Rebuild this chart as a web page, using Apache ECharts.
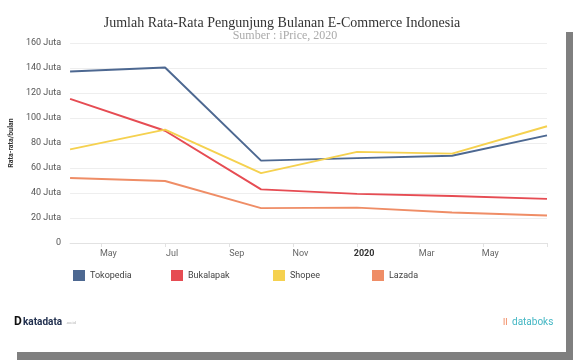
<!DOCTYPE html>
<html>
<head>
<meta charset="utf-8">
<script src="https://cdn.jsdelivr.net/npm/echarts@6/dist/echarts.min.js"></script>
<style>
html,body{margin:0;padding:0;background:#fff;}
#c{width:573px;height:360px;}
</style>
</head>
<body>
<div id="c"></div>
<script>
const dates = ['2019-04-01', '2019-07-01', '2019-10-01', '2020-01-01', '2020-04-01', '2020-07-01'];
const tokopedia = [137.2, 140.4, 65.9, 67.9, 69.8, 86.1];
const bukalapak = [115.3, 89.8, 42.9, 39.3, 37.6, 35.3];
const shopee = [74.9, 90.7, 55.9, 72.9, 71.5, 93.4];
const lazada = [52.0, 49.6, 27.9, 28.3, 24.4, 22.0];
const seriesNames = ['Tokopedia', 'Bukalapak', 'Shopee', 'Lazada'];
const monthNames = ['Jan', 'Feb', 'Mar', 'Apr', 'May', 'Jun', 'Jul', 'Aug', 'Sep', 'Oct', 'Nov', 'Dec'];
const colors = ['#4d6891', '#e64c53', '#f5d14f', '#ef8d66'];
const legendLefts = [73, 171, 273, 372];

const chart = echarts.init(document.getElementById('c'), null, {renderer: 'canvas'});
const allData = [tokopedia, bukalapak, shopee, lazada];
const series = seriesNames.map((n, i) => ({
  name: n,
  type: 'line',
  data: dates.map((d, j) => [d, allData[i][j]]),
  symbol: 'none',
  lineStyle: {width: 2, color: colors[i]},
  itemStyle: {color: colors[i]}
}));
const xMin = new Date(dates[0]).getTime();
const xMax = new Date(dates[dates.length - 1]).getTime();

chart.setOption({
  animation: false,
  title: [{
    text: 'Jumlah Rata-Rata Pengunjung Bulanan E-Commerce Indonesia',
    left: 277, top: 11, textAlign: 'center',
    textStyle: {fontFamily: 'Liberation Serif', fontSize: 14, fontWeight: 'normal', color: '#333'}
  }, {
    text: 'Sumber : iPrice, 2020',
    left: 280, top: 25, textAlign: 'center',
    textStyle: {fontFamily: 'Liberation Serif', fontSize: 12, fontWeight: 'normal', color: '#aaa'}
  }],
  grid: {left: 66, right: 26, top: 43, bottom: 117},
  legend: seriesNames.map((n, i) => ({
    left: legendLefts[i], top: 270, padding: 0,
    itemWidth: 12, itemHeight: 11,
    icon: 'rect',
    data: [n],
    textStyle: {fontFamily: 'Roboto', fontSize: 9, color: '#444'},
    selectedMode: false
  })),
  xAxis: {
    type: 'time',
    min: xMin,
    max: xMax,
    splitNumber: 7,
    axisLine: {show: true, lineStyle: {color: '#e2e2e2'}},
    axisTick: {show: true, length: 4, lineStyle: {color: '#e2e2e2'}},
    splitLine: {show: false},
    axisLabel: {
      fontFamily: 'Roboto', fontSize: 9, color: '#666', margin: 6,
      padding: [0, 0, 0, 14],
      showMinLabel: false, showMaxLabel: false,
      formatter: function (v) {
        if (v <= xMin || v >= xMax) return '';
        const d = new Date(v);
        if (d.getMonth() === 0) return '{b|' + d.getFullYear() + '}';
        return monthNames[d.getMonth()];
      },
      rich: {b: {fontWeight: 'bold', fontFamily: 'Roboto', fontSize: 9, color: '#333'}}
    }
  },
  yAxis: {
    type: 'value',
    min: 0, max: 160, interval: 20,
    name: 'Rata-rata/bulan',
    nameLocation: 'middle',
    nameGap: 42,
    nameRotate: 90,
    nameTextStyle: {fontFamily: 'Roboto', fontSize: 7, fontWeight: 'bold', color: '#333'},
    axisLine: {show: false},
    axisTick: {show: false},
    splitLine: {lineStyle: {color: '#eeeeee'}},
    axisLabel: {
      fontFamily: 'Roboto', fontSize: 9, color: '#555', margin: 9,
      formatter: v => v === 0 ? '0' : v + ' Juta'
    }
  },
  series: series,
  graphic: [
    {type: 'rect', shape: {x: 566, y: 32, width: 7, height: 328}, style: {fill: '#7f7f7f'}, silent: true},
    {type: 'rect', shape: {x: 17, y: 352, width: 556, height: 8}, style: {fill: '#7f7f7f'}, silent: true},
    {type: 'text', left: 14, top: 316, style: {text: 'D', font: 'bold 12px Roboto', fill: '#111'}},
    {type: 'text', left: 23, top: 317, style: {text: 'katadata', font: 'bold 10px Roboto', fill: '#22304f'}},
    {type: 'text', left: 66, top: 321, style: {text: '.co.id', font: '4px Roboto', fill: '#aaa'}},
    {type: 'text', left: 503, top: 317, style: {text: '\u01c0\u01c0', font: 'bold 10px Roboto', fill: '#ef7d4f'}},
    {type: 'text', left: 512, top: 317, style: {text: 'databoks', font: '10px Roboto', fill: '#44b7c4'}}
  ]
});
</script>
</body>
</html>
